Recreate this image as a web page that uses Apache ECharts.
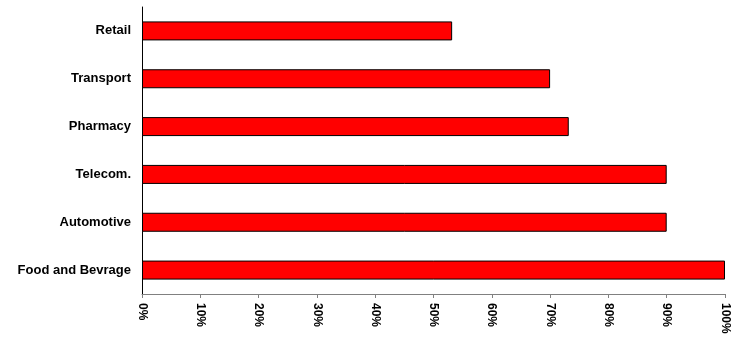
<!DOCTYPE html>
<html>
<head>
<meta charset="utf-8">
<script src="https://cdn.jsdelivr.net/npm/echarts@6/dist/echarts.min.js"></script>
<style>
  html, body { margin: 0; padding: 0; background: #fff; }
  #chart { width: 731px; height: 338px; }
</style>
</head>
<body>
<div id="chart"></div>
<script>
// Sectors, listed top to bottom
const categories = ['Retail', 'Transport', 'Pharmacy', 'Telecom.', 'Automotive', 'Food and Bevrage'];
// Share per sector, in percent
const values = [53.2, 70, 73.2, 90, 90, 100];

const chart = echarts.init(document.getElementById('chart'), null, { renderer: 'canvas' });
const font = '"Liberation Sans", Arial, sans-serif';

chart.setOption({
  animation: false,
  backgroundColor: '#ffffff',
  grid: { left: 142, right: 5, top: 7, bottom: 44, containLabel: false },
  xAxis: {
    type: 'value',
    min: 0,
    max: 100,
    interval: 10,
    splitLine: { show: false },
    axisLine: { show: true, lineStyle: { color: '#808080', width: 1 } },
    axisTick: { show: true, length: 4, lineStyle: { color: '#808080' } },
    axisLabel: {
      rotate: -90,
      margin: 9,
      formatter: v => v + '%',
      color: '#000',
      fontFamily: font,
      fontWeight: 'bold',
      fontSize: 12
    }
  },
  yAxis: {
    type: 'category',
    data: categories,
    inverse: true,
    axisLine: { show: true, lineStyle: { color: '#000', width: 1 } },
    axisTick: { show: false },
    axisLabel: {
      margin: 11,
      color: '#000',
      fontFamily: font,
      fontWeight: 'bold',
      fontSize: 13
    }
  },
  series: [{
    type: 'bar',
    data: values,
    barWidth: 19,
    itemStyle: { color: '#ff0000', borderColor: '#000', borderWidth: 1 }
  }]
});
</script>
</body>
</html>
